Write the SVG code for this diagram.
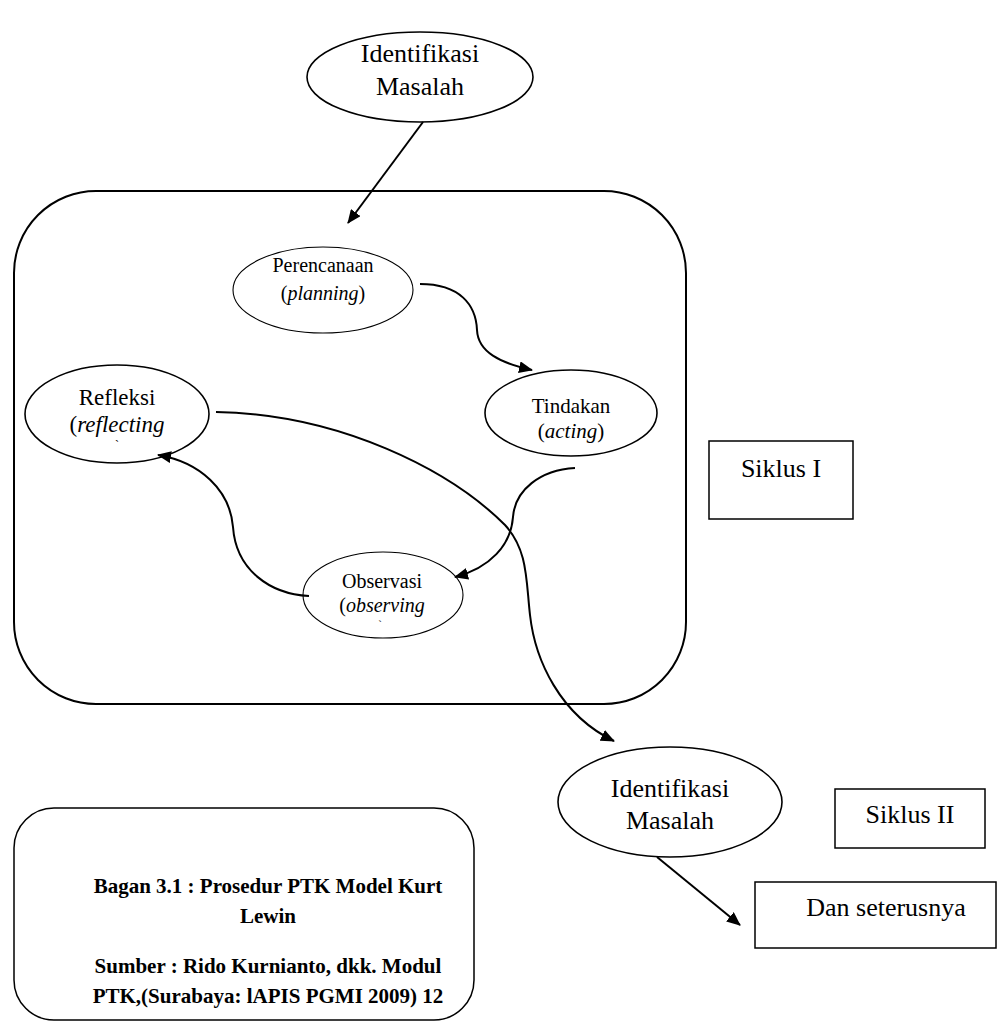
<svg xmlns="http://www.w3.org/2000/svg" width="1006" height="1025" viewBox="0 0 1006 1025">
<style>
text{font-family:"Liberation Serif","Times New Roman",serif;fill:#000;text-anchor:middle}
.n{fill:#fff;stroke:#000;stroke-width:1.6}
.thin{fill:#fff;stroke:#000;stroke-width:1.1}
.c{fill:none;stroke:#000;stroke-width:2}
.b{font-weight:bold;font-size:21px}
</style>
<defs>
<marker id="ah" viewBox="0 0 14 12" refX="13" refY="6" markerWidth="14" markerHeight="12" markerUnits="userSpaceOnUse" orient="auto">
<path d="M0,0 L14,6 L0,12 Z" fill="#000"/>
</marker>
</defs>
<rect x="0" y="0" width="1006" height="1025" fill="#fff"/>
<g id="cycle-box"><rect x="14" y="191" width="672" height="513" rx="82" ry="82" fill="none" stroke="#000" stroke-width="2"/></g>
<g id="identifikasi-top"><ellipse class="n" cx="420" cy="77" rx="113" ry="45"/><text x="420" y="62" font-size="26">Identifikasi</text><text x="420" y="95" font-size="26">Masalah</text></g>
<g id="perencanaan"><ellipse class="thin" cx="323" cy="290" rx="90" ry="43"/><text x="323" y="272" font-size="20">Perencanaan</text><text x="323" y="300" font-size="20">(<tspan font-style="italic">planning</tspan>)</text></g>
<g id="tindakan"><ellipse class="n" cx="571" cy="413" rx="86" ry="43"/><text x="571" y="413" font-size="21">Tindakan</text><text x="571" y="438" font-size="21">(<tspan font-style="italic">acting</tspan>)</text></g>
<g id="refleksi"><ellipse class="n" cx="117" cy="414" rx="92" ry="49"/><text x="117" y="405" font-size="23">Refleksi</text><text x="117" y="432" font-size="23">(<tspan font-style="italic">reflecting</tspan></text><text x="117" y="449" font-size="12">`</text></g>
<g id="observasi"><ellipse class="thin" cx="383" cy="595" rx="80" ry="43"/><text x="382" y="588" font-size="20">Observasi</text><text x="382" y="612" font-size="20">(<tspan font-style="italic">observing</tspan></text><text x="380" y="628" font-size="11">`</text></g>
<g id="siklus-1"><rect x="709" y="441" width="144" height="78" fill="#fff" stroke="#000" stroke-width="1.5"/><text x="781" y="477" font-size="26">Siklus I</text></g>
<g id="identifikasi-bottom"><ellipse class="n" cx="670" cy="802" rx="112" ry="55"/><text x="670" y="797" font-size="26">Identifikasi</text><text x="670" y="829" font-size="26">Masalah</text></g>
<g id="siklus-2"><rect x="835" y="789" width="150" height="59" fill="#fff" stroke="#000" stroke-width="1.5"/><text x="910" y="823" font-size="26">Siklus II</text></g>
<g id="dan-seterusnya"><rect x="755" y="882" width="241" height="66" fill="#fff" stroke="#000" stroke-width="1.5"/><text x="886" y="916" font-size="26">Dan seterusnya</text></g>
<g id="caption"><rect x="14" y="808" width="460" height="212" rx="40" ry="40" fill="#fff" stroke="#000" stroke-width="1.5"/>
<text class="b" x="268" y="893">Bagan 3.1 : Prosedur PTK Model Kurt</text>
<text class="b" x="268" y="923">Lewin</text>
<text class="b" x="268" y="973">Sumber : Rido Kurnianto, dkk. Modul</text>
<text class="b" x="268" y="1003">PTK,(Surabaya: lAPIS PGMI 2009) 12</text></g>
<g id="connectors">
<path class="c" d="M423,122 L348,223" marker-end="url(#ah)"/>
<path class="c" d="M420,284 C460,284 476,305 477,330 C478,352 500,363 532,370" marker-end="url(#ah)"/>
<path class="c" d="M575,468 C540,470 515,490 513,517 C511,545 490,568 455,577" marker-end="url(#ah)"/>
<path class="c" d="M309,596 C270,594 236,570 233,527 C230,490 200,462 158,455" marker-end="url(#ah)"/>
<path class="c" d="M216,412 C340,414 450,470 505,525 C528,550 526,580 530,615 C535,660 560,715 614,741" marker-end="url(#ah)"/>
<path class="c" d="M657,857 L740,925" marker-end="url(#ah)"/>
</g>
</svg>
